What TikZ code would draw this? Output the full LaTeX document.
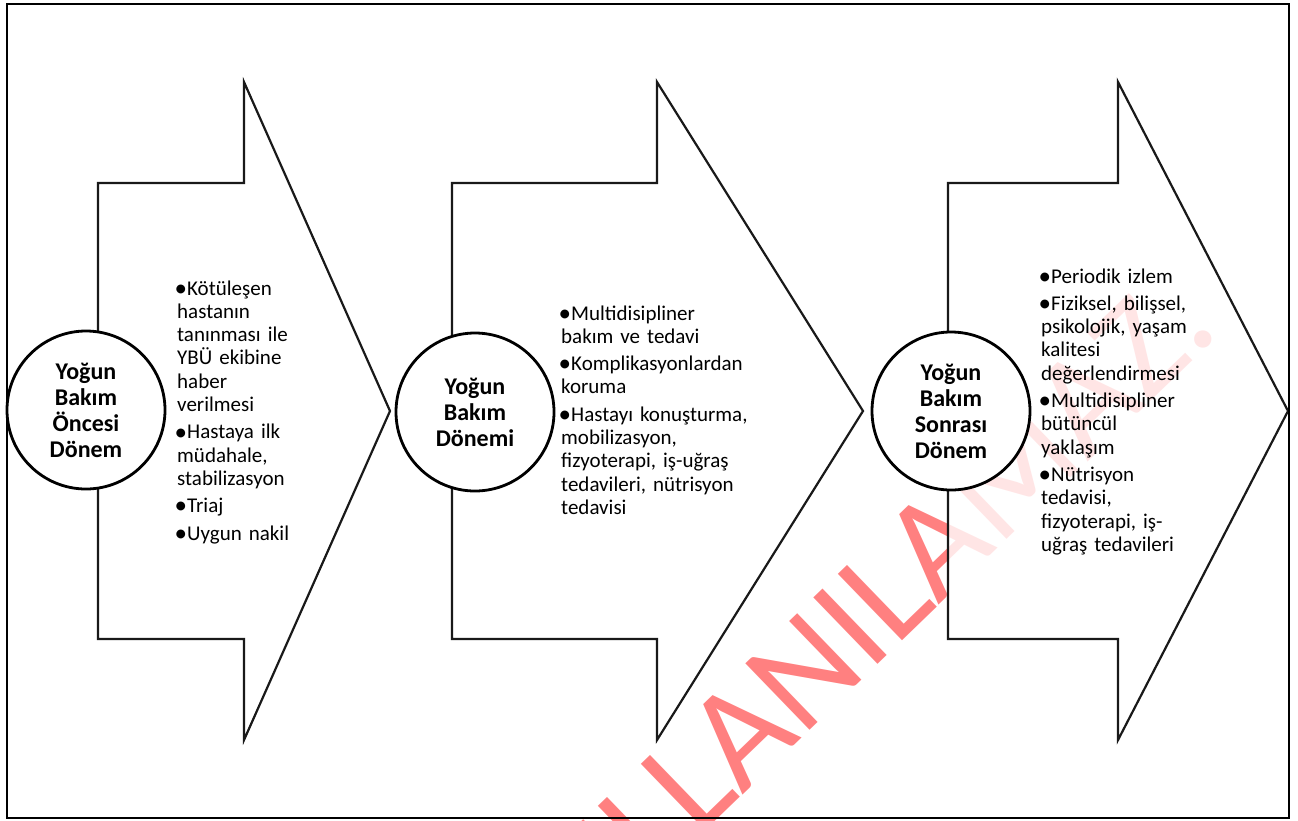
\documentclass[tikz,border=0pt]{standalone}
\usepackage{fontspec}
\setmainfont{Carlito}
\definecolor{wmred}{RGB}{255,128,128}
\newcommand\bitem[1]{\hangindent=10pt\hangafter=1\noindent\makebox[10pt][l]{\hspace*{-2.5pt}\raisebox{-1.2pt}{\fontsize{25}{25}\selectfont•}}#1\par\parskip=4pt\relax}
\tikzset{
  arrowshape/.style={draw=black!90, line width=2.2pt, fill=white, line join=miter},
  phase/.style={circle, draw=black, line width=2.8pt, fill=white, minimum size=158pt,
    inner sep=0pt, align=center, font=\fontsize{24}{26}\selectfont\bfseries},
  itemlist/.style={anchor=base west, inner sep=0pt, text width=300pt,
    font=\fontsize{21}{23.3}\selectfont},
  watermark/.style={text=wmred, font=\fontsize{144}{144}\selectfont, rotate=44,
    anchor=base east, inner sep=0pt},
  frame/.style={draw=black, line width=2pt}
}
\begin{document}
\begin{tikzpicture}[x=1pt,y=-1pt]
\useasboundingbox (0,0) rectangle (1298,820);
\fill[white] (0,0) rectangle (1298,820);
% arrows 1 and 2
\draw[arrowshape] (98,183) -- (244,183) -- (244,82) -- (390,411) -- (244,740) -- (244,639) -- (98,639) -- cycle;
\draw[arrowshape] (452,183) -- (657,183) -- (657,82) -- (863,411) -- (657,740) -- (657,639) -- (452,639) -- cycle;
% watermark
\begin{scope}
\clip (0,0) rectangle (1298,820);
\node[watermark] (wm) at (1222,332) {KULLANILAMAZ.};
\end{scope}
% arrow 3 (veils the watermark)
\fill[white, fill opacity=0.8] (948,183) -- (1118,183) -- (1118,82) -- (1288,411) -- (1118,740) -- (1118,639) -- (948,639) -- cycle;
\draw[arrowshape, fill=none] (948,183) -- (1118,183) -- (1118,82) -- (1288,411) -- (1118,740) -- (1118,639) -- (948,639) -- cycle;
% frame
\draw[frame] (7,4) rectangle (1289,818);
% phases
\node[phase] (c1) at (86,410) {Yoğun\\Bakım\\Öncesi\\Dönem};
\node[phase] (c2) at (475,412) {Yoğun\\Bakım\\Dönemi};
\node[phase] (c3) at (951,411) {Yoğun\\Bakım\\Sonrası\\Dönem};
% lists
\node[itemlist] (l1) at (177,295) {%
\bitem{Kötüleşen\\hastanın\\tanınması ile\\YBÜ ekibine\\haber\\verilmesi}%
\bitem{Hastaya ilk\\müdahale,\\stabilizasyon}%
\bitem{Triaj}%
\bitem{Uygun nakil}};
\node[itemlist] (l2) at (561,320) {%
\bitem{Multidisipliner\\bakım ve tedavi}%
\bitem{Komplikasyonlardan\\koruma}%
\bitem{Hastayı konuşturma,\\mobilizasyon,\\fizyoterapi, iş-uğraş\\tedavileri, nütrisyon\\tedavisi}};
\node[itemlist] (l3) at (1041,283) {%
\bitem{Periodik izlem}%
\bitem{Fiziksel, bilişsel,\\psikolojik, yaşam\\kalitesi\\değerlendirmesi}%
\bitem{Multidisipliner\\bütüncül\\yaklaşım}%
\bitem{Nütrisyon\\tedavisi,\\fizyoterapi, iş-\\uğraş tedavileri}};
\end{tikzpicture}
\end{document}
